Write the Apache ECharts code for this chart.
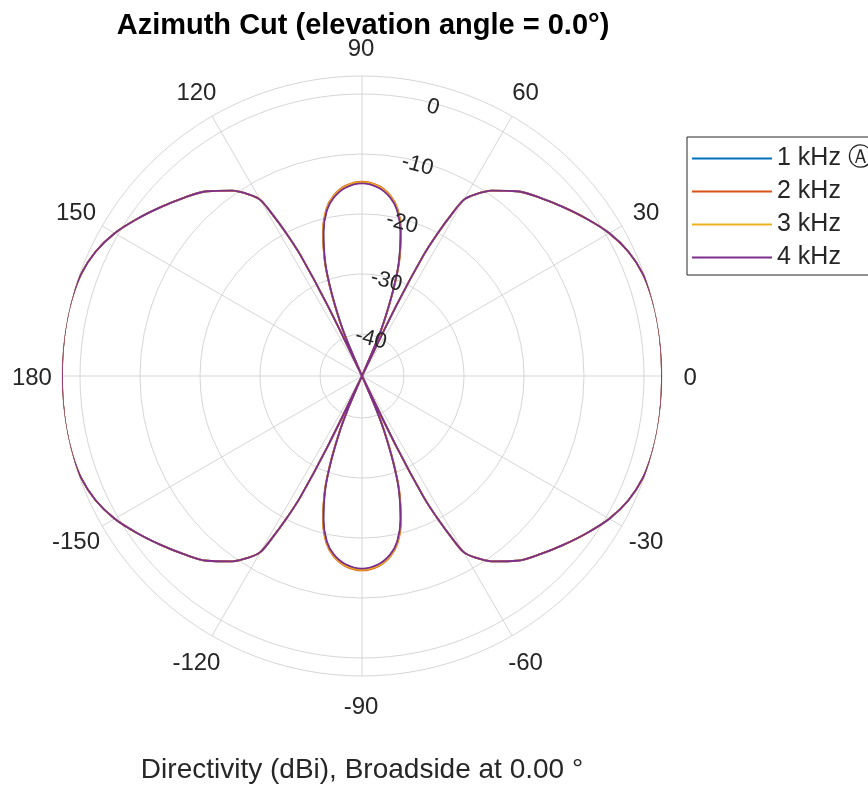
<!DOCTYPE html>
<html><head><meta charset="utf-8">
<script src="https://cdn.jsdelivr.net/npm/echarts@6/dist/echarts.min.js"></script>
<style>html,body{margin:0;padding:0;background:#fff}#c{width:868px;height:785px}</style>
</head><body><div id="c"></div>
<script>
// Azimuth angles (degrees) at which directivity was read
const angles = [
  0,5,10,15,20,25,30,35,40,45,50,55,58,60,61,62,63,64,65,66,67,68,70,72,75,78,81,85,
  90,95,99,102,105,108,110,112,113,114,115,116,117,118,119,120,122,125,130,135,140,145,150,155,160,165,170,175,
  180,185,190,195,200,205,210,215,220,225,230,235,238,240,241,242,243,244,245,246,247,248,250,252,255,258,261,265,
  270,275,279,282,285,288,290,292,293,294,295,296,297,298,299,300,302,305,310,315,320,325,330,335,340,345,350,355,360
];
const seriesNames = ['1 kHz \u24B6', '2 kHz', '3 kHz', '4 kHz'];
// Directivity (dBi) per frequency
const d1k = [
  3.0,3.05,3.1,3.05,2.8,2.0,0.6,-1.3,-3.2,-5.0,-6.8,-9.3,-11.3,-13.1,-16.2,-19.8,-24.3,-34.0,-47,-47,-40.6,-37.2,-31.9,-27.1,-22.1,-18.7,-16.8,-15.4,
  -14.8,-15.4,-16.8,-18.7,-22.1,-27.1,-31.9,-37.2,-40.6,-47,-47,-34.0,-24.3,-19.8,-16.2,-13.1,-11.3,-9.3,-6.8,-5.0,-3.2,-1.3,0.6,2.0,2.8,3.05,3.1,3.05,
  3.0,3.05,3.1,3.05,2.8,2.0,0.6,-1.3,-3.2,-5.0,-6.8,-9.3,-11.3,-13.1,-16.2,-19.8,-24.3,-34.0,-47,-47,-40.6,-37.2,-31.9,-27.1,-22.1,-18.7,-16.8,-15.4,
  -14.8,-15.4,-16.8,-18.7,-22.1,-27.1,-31.9,-37.2,-40.6,-47,-47,-34.0,-24.3,-19.8,-16.2,-13.1,-11.3,-9.3,-6.8,-5.0,-3.2,-1.3,0.6,2.0,2.8,3.05,3.1,3.05,3.0
];
const d2k = [
  3.0,3.05,3.1,3.05,2.8,2.0,0.6,-1.3,-3.2,-5.0,-6.8,-9.3,-11.3,-13.1,-16.2,-19.8,-24.3,-34.0,-47,-47,-40.5,-37.0,-31.7,-26.9,-21.9,-18.5,-16.6,-15.2,
  -14.6,-15.2,-16.6,-18.5,-21.9,-26.9,-31.7,-37.0,-40.5,-47,-47,-34.0,-24.3,-19.8,-16.2,-13.1,-11.3,-9.3,-6.8,-5.0,-3.2,-1.3,0.6,2.0,2.8,3.05,3.1,3.05,
  3.0,3.05,3.1,3.05,2.8,2.0,0.6,-1.3,-3.2,-5.0,-6.8,-9.3,-11.3,-13.1,-16.2,-19.8,-24.3,-34.0,-47,-47,-40.5,-37.0,-31.7,-26.9,-21.9,-18.5,-16.6,-15.2,
  -14.6,-15.2,-16.6,-18.5,-21.9,-26.9,-31.7,-37.0,-40.5,-47,-47,-34.0,-24.3,-19.8,-16.2,-13.1,-11.3,-9.3,-6.8,-5.0,-3.2,-1.3,0.6,2.0,2.8,3.05,3.1,3.05,3.0
];
const d3k = [
  3.0,3.05,3.1,3.05,2.8,2.0,0.6,-1.3,-3.2,-5.0,-6.8,-9.3,-11.3,-13.1,-16.2,-19.8,-24.3,-34.0,-47,-47,-40.6,-37.1,-31.8,-27.0,-22.0,-18.6,-16.7,-15.3,
  -14.7,-15.3,-16.7,-18.6,-22.0,-27.0,-31.8,-37.1,-40.6,-47,-47,-34.0,-24.3,-19.8,-16.2,-13.1,-11.3,-9.3,-6.8,-5.0,-3.2,-1.3,0.6,2.0,2.8,3.05,3.1,3.05,
  3.0,3.05,3.1,3.05,2.8,2.0,0.6,-1.3,-3.2,-5.0,-6.8,-9.3,-11.3,-13.1,-16.2,-19.8,-24.3,-34.0,-47,-47,-40.6,-37.1,-31.8,-27.0,-22.0,-18.6,-16.7,-15.3,
  -14.7,-15.3,-16.7,-18.6,-22.0,-27.0,-31.8,-37.1,-40.6,-47,-47,-34.0,-24.3,-19.8,-16.2,-13.1,-11.3,-9.3,-6.8,-5.0,-3.2,-1.3,0.6,2.0,2.8,3.05,3.1,3.05,3.0
];
const d4k = [
  3.0,3.05,3.1,3.05,2.8,2.0,0.6,-1.3,-3.2,-5.0,-6.8,-9.3,-11.3,-13.1,-16.2,-19.8,-24.3,-34.0,-47,-47,-40.7,-37.3,-32.0,-27.2,-22.2,-18.8,-16.9,-15.5,
  -14.9,-15.5,-16.9,-18.8,-22.2,-27.2,-32.0,-37.3,-40.7,-47,-47,-34.0,-24.3,-19.8,-16.2,-13.1,-11.3,-9.3,-6.8,-5.0,-3.2,-1.3,0.6,2.0,2.8,3.05,3.1,3.05,
  3.0,3.05,3.1,3.05,2.8,2.0,0.6,-1.3,-3.2,-5.0,-6.8,-9.3,-11.3,-13.1,-16.2,-19.8,-24.3,-34.0,-47,-47,-40.7,-37.3,-32.0,-27.2,-22.2,-18.8,-16.9,-15.5,
  -14.9,-15.5,-16.9,-18.8,-22.2,-27.2,-32.0,-37.3,-40.7,-47,-47,-34.0,-24.3,-19.8,-16.2,-13.1,-11.3,-9.3,-6.8,-5.0,-3.2,-1.3,0.6,2.0,2.8,3.05,3.1,3.05,3.0
];
const radialTicks = [-40, -30, -20, -10, 0];
const angleTicks = [0, 30, 60, 90, 120, 150, 180, 210, 240, 270, 300, 330];
const angleTickLabels = ['0', '30', '60', '90', '120', '150', '180', '-150', '-120', '-90', '-60', '-30'];
const radialLabelAngle = 75;
const rMin = -47, rMax = 3;
const angleLabelRadius = rMax + 4.85; // just outside the outer ring

const seriesValues = [d1k, d2k, d3k, d4k];
const colors = ['#0072BD', '#D95319', '#EDB120', '#7E2F8E'];
const FONT = "'Liberation Sans', Arial, Helvetica, sans-serif";
const TXT = '#262626';
const GRID = '#d6d6d6';

const chart = echarts.init(document.getElementById('c'), null, {renderer: 'canvas'});

const lineSeries = seriesValues.map((vals, i) => ({
  name: seriesNames[i],
  type: 'line',
  coordinateSystem: 'polar',
  symbol: 'none',
  smooth: 0.3,
  lineStyle: {color: colors[i], width: 1.8},
  itemStyle: {color: colors[i]},
  data: vals.map((v, k) => [v, angles[k]]),
  z: 3 + i,
  silent: true
}));

const radialLabelSeries = {
  type: 'scatter',
  coordinateSystem: 'polar',
  symbolSize: 0,
  silent: true,
  z: 10,
  itemStyle: {opacity: 1, color: TXT},
  data: radialTicks.map(v => [v, radialLabelAngle]),
  label: {
    show: true,
    position: 'inside',
    offset: [-1, 4],
    rotate: -15,
    formatter: p => String(p.value[0]),
    fontFamily: FONT,
    fontSize: 22,
    color: TXT,
    textBorderWidth: 0
  }
};

const angleLabelSeries = {
  type: 'scatter',
  coordinateSystem: 'polar',
  symbolSize: 0,
  silent: true,
  clip: false,
  z: 10,
  itemStyle: {opacity: 1, color: TXT},
  data: angleTicks.map((a, i) => ({value: [angleLabelRadius, a], name: angleTickLabels[i]})),
  label: {
    show: true,
    position: 'inside',
    offset: [-1, 2],
    formatter: p => p.name,
    fontFamily: FONT,
    fontSize: 24,
    color: TXT,
    textBorderWidth: 0
  }
};

chart.setOption({
  animation: false,
  backgroundColor: '#fff',
  title: [
    {
      text: 'Azimuth Cut (elevation angle = 0.0°)',
      left: 358, top: 6, textAlign: 'center',
      textStyle: {fontFamily: FONT, fontWeight: 'bold', fontSize: 29, color: '#000'}
    },
    {
      text: 'Directivity (dBi), Broadside at 0.00 °',
      left: 357, top: 751, textAlign: 'center',
      textStyle: {fontFamily: FONT, fontWeight: 'normal', fontSize: 28, color: TXT}
    }
  ],
  legend: {
    data: seriesNames,
    orient: 'vertical',
    left: 687, top: 137,
    icon: 'rect',
    itemWidth: 80, itemHeight: 2, itemGap: 8,
    padding: [9, 90, 5, 5],
    borderColor: '#262626', borderWidth: 1,
    backgroundColor: '#fff',
    textStyle: {fontFamily: FONT, fontSize: 25, color: TXT},
    selectedMode: false
  },
  polar: {center: [362, 376], radius: 300},
  angleAxis: {
    type: 'value', min: 0, max: 360, interval: 30,
    startAngle: 0, clockwise: false,
    axisLine: {show: true, lineStyle: {color: GRID, width: 1}},
    axisTick: {show: false},
    splitLine: {show: true, lineStyle: {color: GRID, width: 1}},
    axisLabel: {show: false}
  },
  radiusAxis: {
    type: 'value', min: rMin, max: rMax,
    axisLine: {show: false},
    axisTick: {show: false, customValues: radialTicks},
    axisLabel: {show: false, customValues: radialTicks},
    splitLine: {show: true, lineStyle: {color: GRID, width: 1}}
  },
  series: [...lineSeries, radialLabelSeries, angleLabelSeries]
});
</script>
</body></html>
